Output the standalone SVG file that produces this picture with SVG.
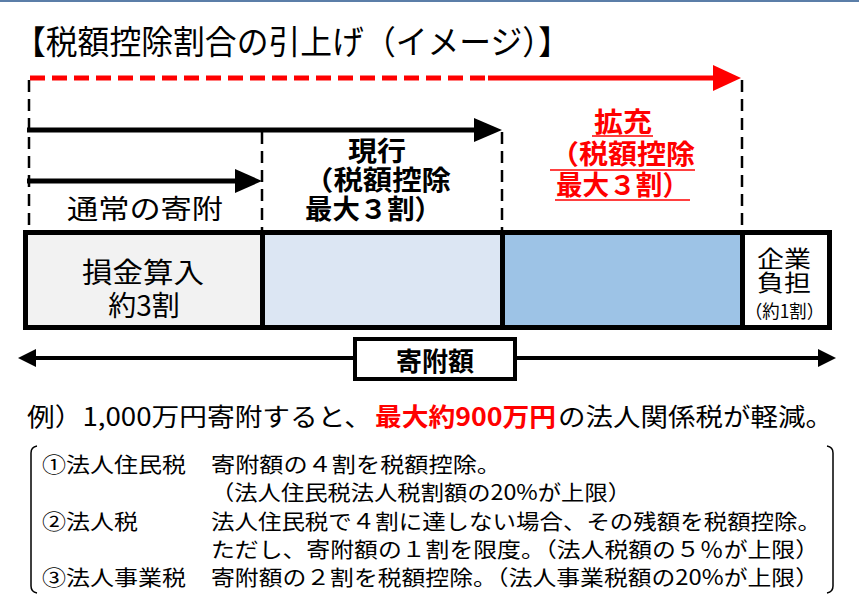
<svg xmlns="http://www.w3.org/2000/svg" width="859" height="606" viewBox="0 0 859 606">
<style>
text{font-family:"Noto Sans CJK JP","Noto Sans CJK SC",sans-serif;fill:#000}
.b{font-weight:bold}
.red{fill:#ff0000}
.vd{stroke:#000;stroke-width:2.5;stroke-dasharray:12 7;fill:none}
.cell{stroke:#000;stroke-width:5}
.lst{font-size:21px}
</style>
<rect x="0" y="0" width="859" height="2" fill="#5b7ea8"/>
<rect x="0" y="2" width="859" height="604" fill="#ffffff"/>
<text x="14" y="54" font-size="33" textLength="556" lengthAdjust="spacingAndGlyphs">【税額控除割合の引上げ（イメージ）】</text>

<g id="connectors">
  <line class="vd" x1="29" y1="80" x2="29" y2="231"/>
  <line class="vd" x1="262" y1="132" x2="262" y2="231"/>
  <line class="vd" x1="502" y1="132" x2="502" y2="231"/>
  <line class="vd" x1="742" y1="80" x2="742" y2="231"/>
  <line x1="30" y1="78" x2="490" y2="78" stroke="#ff0000" stroke-width="5" stroke-dasharray="15 7"/>
  <line x1="488" y1="78" x2="716" y2="78" stroke="#ff0000" stroke-width="5"/>
  <polygon points="713,65 741,78 713,91" fill="#ff0000"/>
  <line x1="27" y1="130" x2="476" y2="130" stroke="#000" stroke-width="5"/>
  <polygon points="474,118 502,130 474,142" fill="#000"/>
  <line x1="27" y1="181" x2="237" y2="181" stroke="#000" stroke-width="5"/>
  <polygon points="235,169 262,181 235,193" fill="#000"/>
  <line x1="32" y1="358" x2="356" y2="358" stroke="#000" stroke-width="4"/>
  <polygon points="36,349 18,358 36,367" fill="#000"/>
  <line x1="516" y1="358" x2="820" y2="358" stroke="#000" stroke-width="4"/>
  <polygon points="818,349 836,358 818,367" fill="#000"/>
</g>

<g id="label-normal">
  <text x="67" y="219" font-size="27" textLength="156" lengthAdjust="spacingAndGlyphs">通常の寄附</text>
</g>
<g id="label-current">
  <text x="348" y="161" font-size="27" class="b" textLength="58" lengthAdjust="spacingAndGlyphs">現行</text>
  <text x="304" y="190" font-size="27" class="b" textLength="147" lengthAdjust="spacingAndGlyphs">（税額控除</text>
  <text x="305" y="219" font-size="27" class="b" textLength="137" lengthAdjust="spacingAndGlyphs">最大３割）</text>
</g>
<g id="label-expand">
  <text x="594" y="132" font-size="27" class="b red" textLength="58" lengthAdjust="spacingAndGlyphs">拡充</text>
  <text x="550" y="164" font-size="27" class="b red" textLength="145" lengthAdjust="spacingAndGlyphs">（税額控除</text>
  <text x="556" y="195" font-size="27" class="b red" textLength="133" lengthAdjust="spacingAndGlyphs">最大３割）</text>
  <line x1="592" y1="136" x2="653" y2="136" stroke="#ff0000" stroke-width="1.5"/>
  <line x1="550" y1="170" x2="695" y2="170" stroke="#ff0000" stroke-width="1.5"/>
  <line x1="555" y1="200" x2="690" y2="200" stroke="#ff0000" stroke-width="1.5"/>
</g>

<g id="cell-deduct">
  <rect class="cell" x="25.5" y="232.5" width="237" height="95" fill="#f2f2f2"/>
  <text x="82" y="283" font-size="28" textLength="122" lengthAdjust="spacingAndGlyphs">損金算入</text>
  <text x="144" y="316" font-size="28" text-anchor="middle">約3割</text>
</g>
<g id="cell-current">
  <rect class="cell" x="262.5" y="232.5" width="240" height="95" fill="#dce6f3"/>
</g>
<g id="cell-expand">
  <rect class="cell" x="502.5" y="232.5" width="240" height="95" fill="#9dc3e6"/>
</g>
<g id="cell-company">
  <rect class="cell" x="742.5" y="232.5" width="87" height="95" fill="#ffffff"/>
  <text x="757" y="267" font-size="23" textLength="54" lengthAdjust="spacingAndGlyphs">企業</text>
  <text x="757" y="291" font-size="23" textLength="54" lengthAdjust="spacingAndGlyphs">負担</text>
  <text x="745" y="318" font-size="18" textLength="79" lengthAdjust="spacingAndGlyphs">（約1割）</text>
</g>

<g id="total-label">
  <rect x="355" y="339" width="160" height="40" fill="#ffffff" stroke="#000" stroke-width="4"/>
  <text x="435" y="371" font-size="26" text-anchor="middle" class="b">寄附額</text>
</g>

<g id="example">
  <text x="27" y="426" font-size="25" textLength="345" lengthAdjust="spacingAndGlyphs">例）1,000万円寄附すると、</text>
  <text x="375" y="426" font-size="25" class="b red" textLength="181" lengthAdjust="spacingAndGlyphs">最大約900万円</text>
  <text x="558" y="426" font-size="25" textLength="275" lengthAdjust="spacingAndGlyphs">の法人関係税が軽減。</text>
</g>

<g id="details">
  <path d="M37,446 Q31,447 31,453 L31,586 Q31,592 37,593" fill="none" stroke="#000" stroke-width="1.5"/>
  <path d="M827,446 Q833,447 833,453 L833,586 Q833,592 827,593" fill="none" stroke="#000" stroke-width="1.5"/>
  <text class="lst" x="42" y="472" textLength="144" lengthAdjust="spacingAndGlyphs">①法人住民税</text>
  <text class="lst" x="211" y="472" textLength="290" lengthAdjust="spacingAndGlyphs">寄附額の４割を税額控除。</text>
  <text class="lst" x="211" y="500" textLength="420" lengthAdjust="spacingAndGlyphs">（法人住民税法人税割額の20%が上限）</text>
  <text class="lst" x="42" y="529" textLength="96" lengthAdjust="spacingAndGlyphs">②法人税</text>
  <text class="lst" x="211" y="529" textLength="610" lengthAdjust="spacingAndGlyphs">法人住民税で４割に達しない場合、その残額を税額控除。</text>
  <text class="lst" x="211" y="557" textLength="608" lengthAdjust="spacingAndGlyphs">ただし、寄附額の１割を限度。（法人税額の５％が上限）</text>
  <text class="lst" x="42" y="585" textLength="144" lengthAdjust="spacingAndGlyphs">③法人事業税</text>
  <text class="lst" x="211" y="585" textLength="608" lengthAdjust="spacingAndGlyphs">寄附額の２割を税額控除。（法人事業税額の20%が上限）</text>
</g>
</svg>
